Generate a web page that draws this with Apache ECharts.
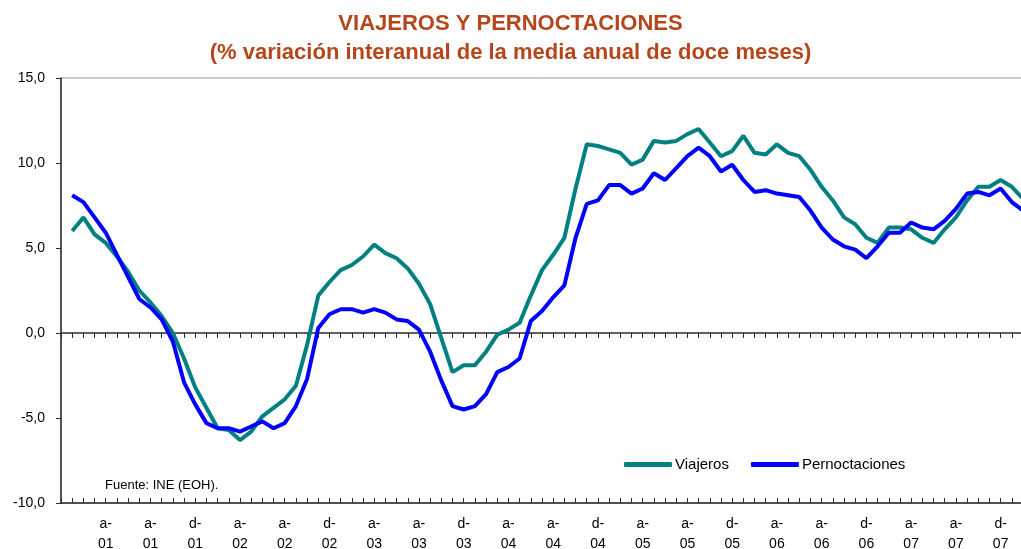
<!DOCTYPE html>
<html>
<head>
<meta charset="utf-8">
<title>Viajeros y pernoctaciones</title>
<script src="https://cdn.jsdelivr.net/npm/echarts@6/dist/echarts.min.js"></script>
<style>
    html, body { margin: 0; padding: 0; background: #ffffff; }
    #grafico { width: 1021px; height: 549px; }
</style>
</head>
<body>
<div id="grafico"></div>
<script>
// Variación interanual (%) de la media anual de doce meses, ene-01 a feb-08
const viajeros = [
    6.0, 6.8, 5.8, 5.3, 4.5, 3.6, 2.5, 1.8, 1.0, 0.0, -1.5, -3.2,
    -4.4, -5.6, -5.7, -6.3, -5.8, -4.9, -4.4, -3.9, -3.1, -0.7, 2.2, 3.0,
    3.7, 4.0, 4.5, 5.2, 4.7, 4.4, 3.8, 2.9, 1.7, -0.3, -2.3, -1.9,
    -1.9, -1.1, -0.1, 0.2, 0.6, 2.2, 3.7, 4.6, 5.6, 8.5, 11.1, 11.0,
    10.8, 10.6, 9.9, 10.2, 11.3, 11.2, 11.3, 11.7, 12.0, 11.2, 10.4, 10.7,
    11.6, 10.6, 10.5, 11.1, 10.6, 10.4, 9.6, 8.6, 7.8, 6.8, 6.4, 5.6,
    5.3, 6.2, 6.2, 6.1, 5.6, 5.3, 6.1, 6.8, 7.8, 8.6, 8.6, 9.0,
    8.6, 7.9
];
const pernoctaciones = [
    8.1, 7.7, 6.8, 5.9, 4.6, 3.3, 2.0, 1.5, 0.8, -0.5, -2.9, -4.2,
    -5.3, -5.6, -5.6, -5.8, -5.5, -5.2, -5.6, -5.3, -4.3, -2.7, 0.3, 1.1,
    1.4, 1.4, 1.2, 1.4, 1.2, 0.8, 0.7, 0.2, -1.1, -2.8, -4.3, -4.5,
    -4.3, -3.6, -2.3, -2.0, -1.5, 0.7, 1.3, 2.1, 2.8, 5.6, 7.6, 7.8,
    8.7, 8.7, 8.2, 8.5, 9.4, 9.0, 9.7, 10.4, 10.9, 10.4, 9.5, 9.9,
    9.0, 8.3, 8.4, 8.2, 8.1, 8.0, 7.2, 6.2, 5.5, 5.1, 4.9, 4.4,
    5.1, 5.9, 5.9, 6.5, 6.2, 6.1, 6.6, 7.3, 8.2, 8.3, 8.1, 8.5,
    7.7, 7.2
];

// Etiquetas del eje X: una cada cuatro meses, empezando en abr-01 (mes 3)
const etiquetasX = [
    'a-\n01', 'a-\n01', 'd-\n01', 'a-\n02', 'a-\n02', 'd-\n02', 'a-\n03',
    'a-\n03', 'd-\n03', 'a-\n04', 'a-\n04', 'd-\n04', 'a-\n05', 'a-\n05',
    'd-\n05', 'a-\n06', 'a-\n06', 'd-\n06', 'a-\n07', 'a-\n07', 'd-\n07'
];
const PRIMERA_ETIQUETA = 3;
const PASO_ETIQUETA = 4;

const COLORES = {
    titulo: '#B5461C',
    viajeros: '#008080',
    pernoctaciones: '#0000FF',
    ejes: '#2b2b2b',
    marco: '#9a9a9a'
};
const FUENTE = 'Arial, "Liberation Sans", sans-serif';

// Eje X común (meses como índice numérico)
function ejeMeses(extra) {
    return Object.assign({
        type: 'value',
        min: -1,
        max: 85,
        interval: 1,
        splitLine: { show: false }
    }, extra);
}

function etiquetaMes(v) {
    const k = Math.round(v) - PRIMERA_ETIQUETA;
    if (k >= 0 && k % PASO_ETIQUETA === 0 && Math.abs(v - Math.round(v)) < 1e-6) {
        return etiquetasX[k / PASO_ETIQUETA] || '';
    }
    return '';
}

function renderChart() {
    const chart = echarts.init(document.getElementById('grafico'));

    const option = {
        animation: false,
        backgroundColor: '#ffffff',
        title: [
            {
                text: 'VIAJEROS Y PERNOCTACIONES\n(% variación interanual de la media anual de doce meses)',
                left: 'center',
                top: 9,
                padding: [0, 0, 0, 33],
                textStyle: {
                    fontFamily: FUENTE,
                    fontSize: 22,
                    fontWeight: 'bold',
                    color: COLORES.titulo,
                    lineHeight: 29
                }
            },
            {
                text: 'Fuente: INE (EOH).',
                left: 100,
                top: 474,
                textStyle: {
                    fontFamily: FUENTE,
                    fontSize: 13,
                    fontWeight: 'normal',
                    color: '#000'
                }
            }
        ],
        legend: {
            data: [
                { name: 'Viajeros', icon: 'roundRect' },
                { name: 'Pernoctaciones', icon: 'roundRect' }
            ],
            left: 619,
            top: 452,
            itemWidth: 48,
            itemHeight: 5,
            itemGap: 22,
            textStyle: { fontFamily: FUENTE, fontSize: 15, color: '#000', padding: [0, 0, 0, -2] }
        },
        grid: {
            left: 61,
            right: -2,
            top: 78,
            bottom: 46,
            outerBoundsMode: 'none',
            containLabel: false,
            show: true,
            borderColor: COLORES.marco,
            borderWidth: 1
        },
        xAxis: [
            // eje inferior con las etiquetas
            ejeMeses({
                position: 'bottom',
                axisLine: { show: false, onZero: false },
                axisTick: { show: false },
                axisLabel: {
                    margin: 11,
                    fontFamily: FUENTE,
                    fontSize: 14,
                    lineHeight: 20,
                    color: '#000',
                    formatter: etiquetaMes
                }
            }),
            // línea del cero con marcas hacia arriba
            ejeMeses({
                position: 'bottom',
                axisLine: { onZero: true, lineStyle: { color: COLORES.ejes, width: 1.5 } },
                axisTick: { show: true, inside: false, length: 5, lineStyle: { color: COLORES.ejes } },
                axisLabel: { show: false }
            }),
            // línea del cero con marcas hacia abajo
            ejeMeses({
                position: 'bottom',
                axisLine: { onZero: true, lineStyle: { color: COLORES.ejes, width: 1.5 } },
                axisTick: { show: true, inside: true, length: 5, lineStyle: { color: COLORES.ejes } },
                axisLabel: { show: false }
            })
        ],
        yAxis: {
            type: 'value',
            min: -10,
            max: 15,
            interval: 5,
            axisLine: { show: true, onZero: false, lineStyle: { color: COLORES.ejes, width: 1.5 } },
            axisTick: { show: true, length: 5, lineStyle: { color: COLORES.ejes } },
            splitLine: { show: false },
            axisLabel: {
                margin: 16,
                fontFamily: FUENTE,
                fontSize: 14,
                color: '#000',
                formatter: v => v.toFixed(1).replace('.', ',')
            }
        },
        series: [
            {
                name: 'Viajeros',
                type: 'line',
                xAxisIndex: 0,
                data: viajeros.map((v, i) => [i, v]),
                symbol: 'none',
                lineStyle: { color: COLORES.viajeros, width: 4 },
                itemStyle: { color: COLORES.viajeros }
            },
            {
                name: 'Pernoctaciones',
                type: 'line',
                xAxisIndex: 0,
                data: pernoctaciones.map((v, i) => [i, v]),
                symbol: 'none',
                lineStyle: { color: COLORES.pernoctaciones, width: 4 },
                itemStyle: { color: COLORES.pernoctaciones }
            }
        ]
    };

    chart.setOption(option);
}

document.addEventListener('DOMContentLoaded', renderChart);
</script>
</body>
</html>
